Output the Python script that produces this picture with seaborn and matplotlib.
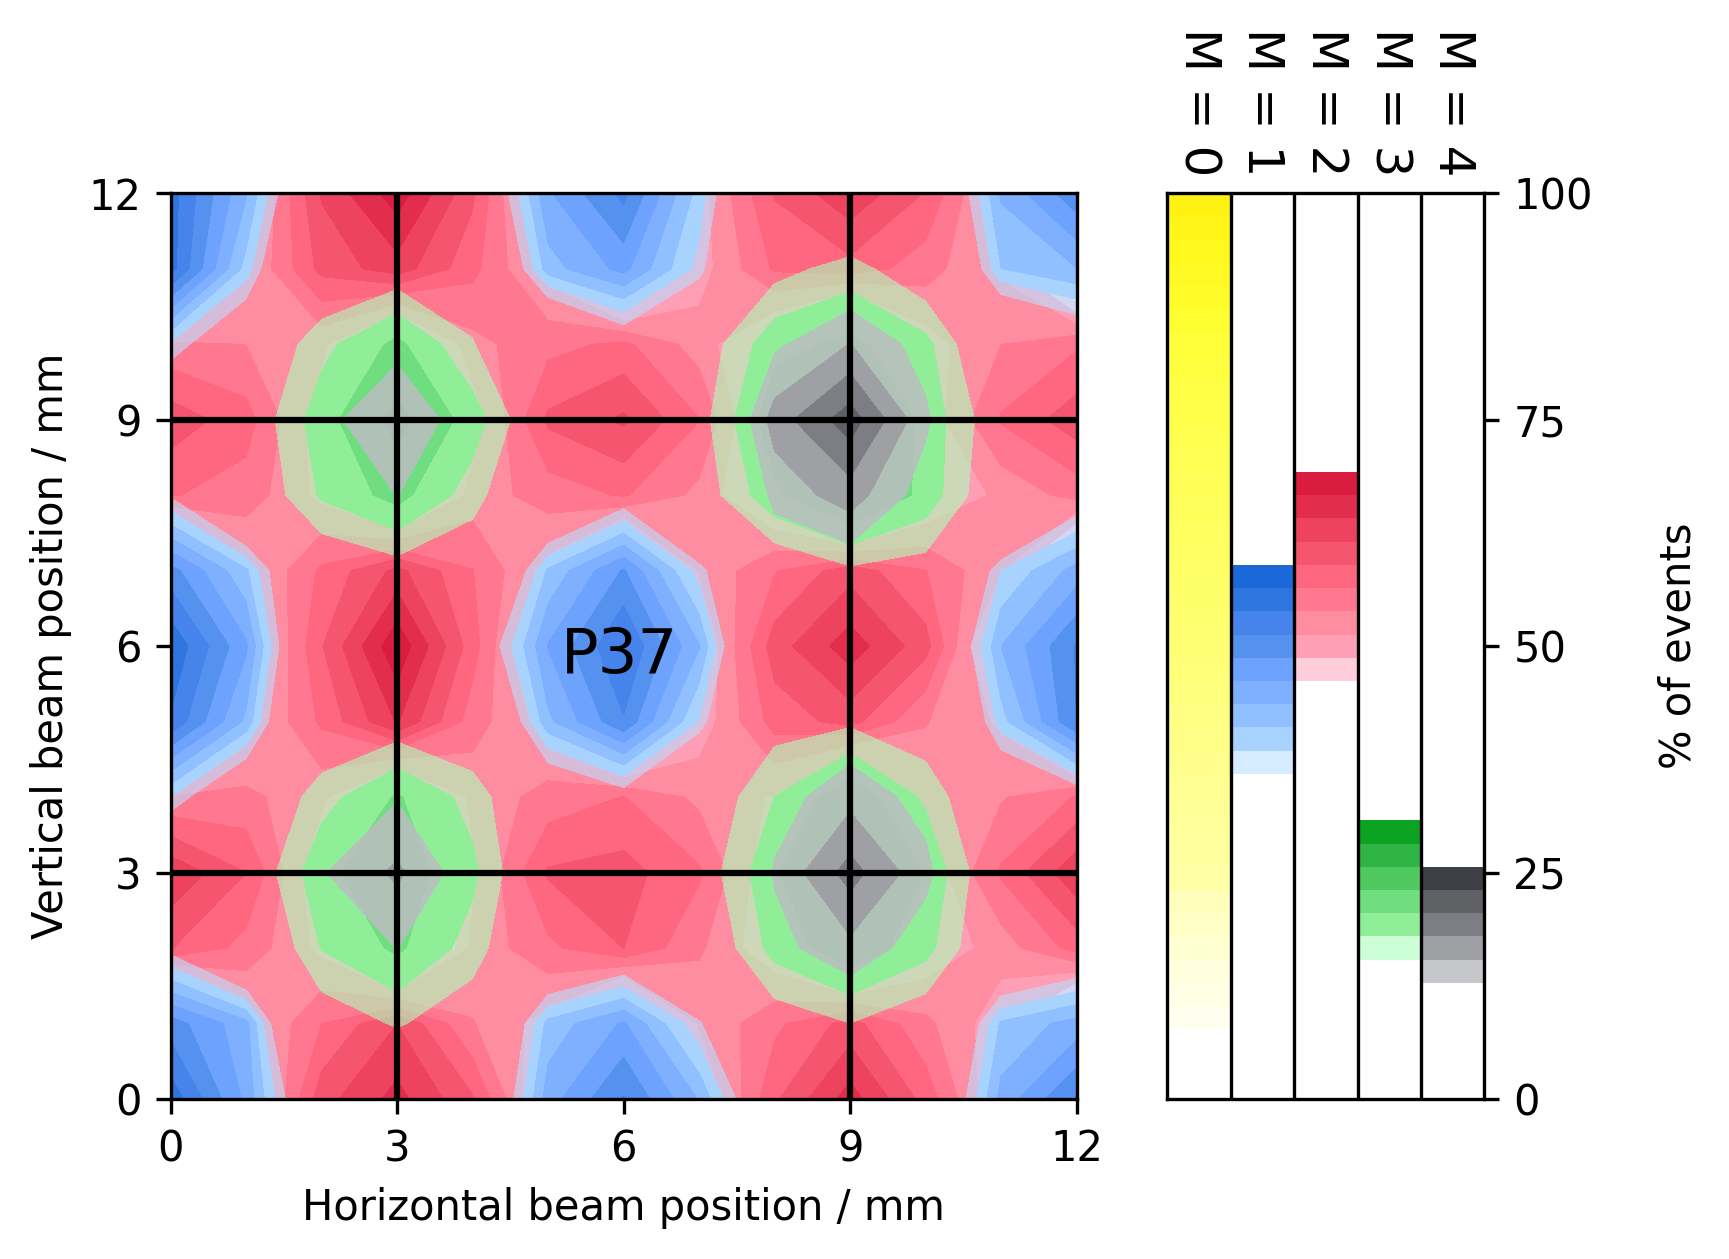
import numpy as np
import matplotlib
matplotlib.use("Agg")
import matplotlib.pyplot as plt
from matplotlib.colors import to_rgba
import seaborn as sns

sns.set_style("ticks", rc={"axes.edgecolor": "black", "text.color": "black", "axes.labelcolor": "black",
                           "xtick.color": "black", "ytick.color": "black", "font.family": ["DejaVu Sans"],
                           "axes.linewidth": 0.8, "xtick.major.width": 0.8, "ytick.major.width": 0.8,
                           "axes.grid": False})
plt.rcParams.update({"font.size": 10, "xtick.major.size": 3.5, "ytick.major.size": 3.5})

positions = [0, 1, 2, 3, 4, 5, 6, 7, 8, 9, 10, 11, 12]
levels = np.linspace(0, 100, 40)

# Percent of events per beam position, rows from y = 12 down to y = 0
m1_rows = [
    [55, 43.9, 25, 10, 27, 45.8, 52, 40, 22, 8, 25, 44, 50.5],
    [55, 40, 19, 8, 22, 42.5, 47, 37.5, 15, 6, 21, 41, 43.5],
    [38, 29.7, 10, 4, 12, 25, 32, 25, 8, 3, 12, 26, 31],
    [28, 15, 5, 3, 5, 12, 18, 12, 3, 2, 5, 12, 18],
    [35.4, 24, 10, 4, 10, 26, 33, 22, 6, 3, 8, 20, 32.5],
    [49.8, 41.5, 23, 8, 22, 41.5, 49, 37.3, 22, 6, 20, 38.5, 44.7],
    [56, 46.6, 22, 8, 30, 46.3, 54, 43.8, 20, 8, 24, 43.6, 51.5],
    [53.5, 43, 19, 6, 23, 43, 51, 38.2, 15, 5, 20, 40, 51.3],
    [38.4, 28.4, 8, 3, 10, 30, 33.7, 22, 6, 3, 10, 29, 32.8],
    [25, 12, 5, 3, 5, 12, 18, 10, 3, 2, 5, 10, 18],
    [34.5, 25, 10, 4, 8, 26, 30, 20, 6, 3, 8, 26, 30],
    [50, 44.5, 18, 8, 22, 42, 46.5, 36.5, 20, 7, 22, 41.5, 44.7],
    [55.5, 45.5, 27, 12, 25, 45, 51.5, 43.4, 28, 10, 26, 44.5, 51.6],
]
m2_rows = [
    [33, 48.9, 61.8, 68.1, 59.5, 45.3, 35, 50, 59.2, 63.5, 58.8, 49, 35],
    [33, 50.8, 59.8, 63, 57.2, 50, 38, 50, 56.8, 58, 55, 50.8, 38],
    [54.5, 53.8, 52, 43, 53, 55.6, 57, 52.6, 47, 35.7, 50, 53.8, 56],
    [60.5, 57.5, 49.5, 35, 49.5, 59.5, 62, 56.5, 45.5, 30, 49.4, 56.7, 60.5],
    [56.6, 55.3, 50.5, 41.5, 52.5, 55, 56.7, 53.1, 47, 33.5, 48, 52, 54.8],
    [38, 50.2, 56.9, 62.3, 56.5, 50.2, 38, 51.5, 56.2, 60.5, 56.5, 51.3, 38],
    [33, 47.5, 58.8, 68.7, 57.6, 45, 32, 48, 60.3, 65.5, 60, 45, 33],
    [35, 50, 56.9, 64.3, 55.1, 50, 36, 49.5, 57.5, 60, 54, 50.8, 36],
    [54, 54.5, 52, 43, 52, 54.9, 56.5, 53.2, 51, 39.8, 52, 53.6, 56.6],
    [63.6, 59, 48.5, 35, 50.6, 59.3, 60, 56.8, 48.7, 32, 49, 56.8, 63.5],
    [59.1, 55.5, 50.5, 37.5, 52, 55.8, 59, 54.3, 49, 37, 49, 52.5, 57.5],
    [35, 50, 56.4, 61.5, 54, 50, 38, 51.5, 55.8, 60, 54.5, 49.5, 38],
    [33, 46.8, 60.5, 65, 59.3, 47, 33, 47.8, 58.5, 65.3, 58, 48.3, 33],
]
m3_rows = [
    [3, 4, 6, 7, 6, 4, 3, 4, 7, 9, 7, 4, 3],
    [4, 7, 11.9, 13.2, 13, 7, 4, 8, 14.3, 16.6, 12.8, 7, 4],
    [7, 11.6, 17.1, 21.2, 15.6, 9, 7, 13.3, 19.8, 21.1, 18.8, 10.4, 7],
    [9, 12.8, 19.5, 23.9, 19.4, 11.4, 9, 14.2, 22.2, 25, 19.75, 13, 9],
    [7, 12.1, 18.35, 21.5, 16.6, 10, 7, 13.5, 20, 24, 19.7, 12, 7],
    [4, 7, 12.5, 13.9, 12.8, 7, 4, 8, 12.7, 14.8, 14, 7, 4],
    [3, 4, 6, 7, 6, 4, 3, 5, 6, 8, 7, 5, 3],
    [4, 7, 12.2, 13.4, 12.3, 7, 4, 8, 14.1, 14.8, 13.1, 7, 4],
    [7, 11.3, 16.85, 20.8, 16.95, 10.5, 7, 12.5, 18, 22.3, 17.45, 10.6, 7],
    [9, 12.3, 20, 22, 18.6, 10.5, 9, 13.4, 20.2, 25, 20.4, 11.8, 9],
    [7, 10.4, 18.1, 21, 16.8, 10, 7, 11.9, 19, 22.2, 19, 11, 7],
    [4, 7, 13.4, 15.7, 13.3, 7, 4, 7, 13.6, 15.35, 13, 7, 4],
    [3, 4, 7, 10, 7, 4, 3, 4, 8, 10, 7, 4, 3],
]
m4_rows = [
    [1, 2, 2, 3, 2, 2, 1, 2, 2, 3, 2, 2, 1],
    [2, 3, 4, 5, 4, 3, 2, 3, 5, 9.6, 5, 3, 2],
    [3, 4, 9, 11.8, 9, 4, 3, 5, 12.3, 15.45, 11.6, 5, 3],
    [3, 5, 11.7, 15.6, 10.7, 4, 3, 5, 16.6, 21.9, 13.4, 5, 3],
    [3, 4, 9, 12.9, 9, 4, 3, 4, 13.7, 16.7, 11.4, 4, 3],
    [2, 3, 5, 9, 5, 3, 2, 3, 10, 10.7, 8, 3, 2],
    [1, 2, 3, 4, 3, 2, 1, 2, 4, 5, 4, 2, 1],
    [2, 3, 4, 8, 4, 3, 2, 3, 7, 10.6, 7, 3, 2],
    [3, 4, 9, 12.6, 8, 4, 3, 5, 11.6, 14.5, 11.8, 5, 3],
    [3, 5, 12.6, 15.9, 10.9, 4, 3, 5, 13.1, 19, 13.6, 6, 3],
    [3, 4, 9, 12.9, 9, 4, 3, 4, 11.9, 14.7, 11.3, 4, 3],
    [2, 3, 4, 7, 4, 3, 2, 3, 8, 9.5, 6, 3, 2],
    [1, 2, 3, 3, 3, 2, 1, 2, 3, 4, 3, 2, 1],
]

# Band colours, lowest band first; the lowest band of M = 1..4 is translucent
yellow_colors = ["#fffff0", "#ffffe6", "#ffffde", "#ffffd2", "#ffffc6", "#ffffbb", "#ffffa6", "#ffffa0", "#ffff9c",
                 "#ffff97", "#ffff92", "#ffff8d", "#ffff88", "#ffff83", "#ffff7e", "#ffff79", "#ffff74", "#ffff70",
                 "#ffff6c", "#ffff68", "#ffff64", "#ffff60", "#ffff5c", "#ffff58", "#ffff54", "#ffff50", "#ffff4c",
                 "#ffff46", "#ffff40", "#ffff3a", "#fffe30", "#fffc2a", "#fffa24", "#fff81e", "#fff518", "#fff212"]
blue_colors = [to_rgba("#b9deff", 0.6), "#a9d3ff", "#90c0ff", "#7fb0ff", "#6da3ff", "#5591ee", "#4683ea", "#2e75df", "#1b69d8"]
red_colors = [to_rgba("#ffaac6", 0.6), "#ff9fb5", "#ff8da2", "#ff788f", "#ff6680", "#f5556f", "#ed435f", "#e22d4d", "#d91c3f"]
green_colors = [to_rgba("#aaffb9", 0.6), "#90ee98", "#70de80", "#50c860", "#30b444", "#0ca222"]
gray_colors = [to_rgba("#bcbdc2", 0.85), "#9fa0a4", "#7d7e83", "#606165", "#3d3f45"]

first_level = {"M = 0": 3, "M = 1": 14, "M = 2": 18, "M = 3": 6, "M = 4": 5}
band_colors = {"M = 0": yellow_colors, "M = 1": blue_colors, "M = 2": red_colors,
               "M = 3": green_colors, "M = 4": gray_colors}
grids = {"M = 2": m2_rows, "M = 1": m1_rows, "M = 3": m3_rows, "M = 4": m4_rows}

fig = plt.figure(figsize=(1729 / 300, 1259 / 300), dpi=300)
ax = fig.add_axes([170.6 / 1729, 1 - 1099 / 1259, 906 / 1729, 905.7 / 1259])
cax = fig.add_axes([1167.3 / 1729, 1 - 1099 / 1259, 317 / 1729, 905.7 / 1259])

for name, rows in grids.items():
    start = first_level[name]
    cols = band_colors[name]
    ax.contourf(positions, positions, np.array(rows)[::-1], levels=levels[start:start + len(cols) + 1], colors=cols)

for v in (3, 9):
    ax.axvline(v, color="black", lw=1.5)
    ax.axhline(v, color="black", lw=1.5)
ax.set_xlim(0, 12)
ax.set_ylim(0, 12)
ax.set_xticks([0, 3, 6, 9, 12])
ax.set_yticks([0, 3, 6, 9, 12])
ax.set_xlabel("Horizontal beam position / mm")
ax.set_ylabel("Vertical beam position / mm")
ax.text(5.17, 5.65, "P37", fontsize=15, color="black")
sns.despine(ax=ax, top=False, right=False)

names = list(band_colors)
for i, name in enumerate(names):
    start = first_level[name]
    for k, col in enumerate(band_colors[name]):
        lo, hi = levels[start + k], levels[start + k + 1]
        cax.bar(i + 0.5, hi - lo, bottom=lo, width=1, color=col, linewidth=0, zorder=1)
for i in range(1, len(names)):
    cax.axvline(i, color="black", lw=0.8, zorder=3)
cax.set_xlim(0, 5)
cax.set_ylim(0, 100)
cax.set_yticks([0, 25, 50, 75, 100])
cax.yaxis.tick_right()
cax.yaxis.set_label_position("right")
cax.set_ylabel("% of events", va="center", rotation=90)
cax.yaxis.set_label_coords(1.613, 0.5)
cax.xaxis.tick_top()
cax.set_xticks([i + 0.5 for i in range(5)])
cax.set_xticklabels(names, rotation=270, ha="center", va="bottom", fontsize=12)
cax.tick_params(axis="x", length=0, pad=4)
sns.despine(ax=cax, top=False, right=False)

fig.savefig("out.png", dpi=300)
